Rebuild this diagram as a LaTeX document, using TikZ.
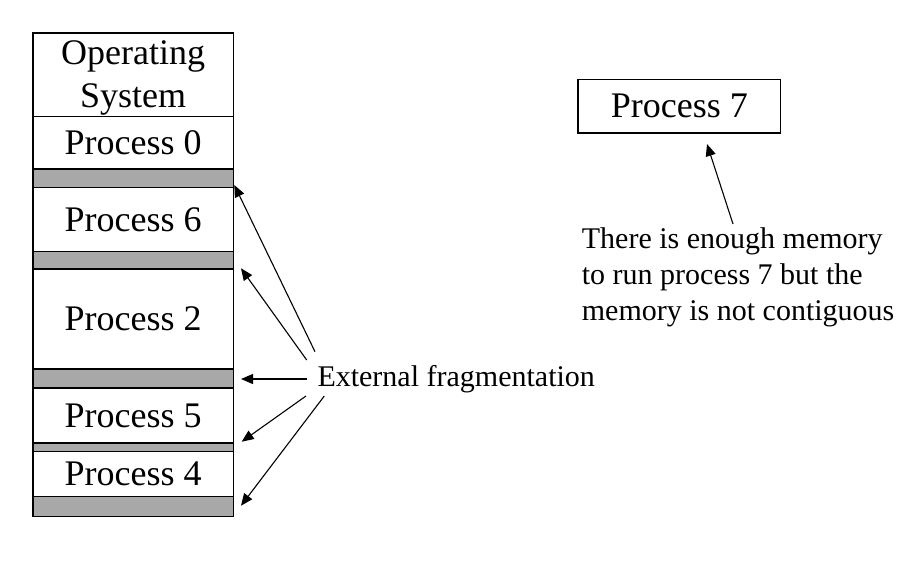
\documentclass[tikz,border=0pt]{standalone}
\usepackage{fontspec}
\setmainfont{Liberation Serif}
\usetikzlibrary{arrows.meta}
\definecolor{gapgray}{RGB}{168,168,168}
\begin{document}
\begin{tikzpicture}[x=1pt,y=-1pt,
  mem/.style={draw, line width=1.4pt, fill=white, minimum width=200.4pt, inner sep=0pt, anchor=north west, font=\fontsize{36}{42}\selectfont, align=center},
  gapbox/.style={draw, line width=1.4pt, fill=gapgray, minimum width=200.4pt, inner sep=0pt, anchor=north west},
  ptr/.style={line width=1.1pt, -{Triangle[length=12pt,width=10pt]}},
  note/.style={font=\fontsize{30}{36}\selectfont, inner sep=0pt}
]
\fill[white] (0,0) rectangle (899,567);
\useasboundingbox (0,0) rectangle (899,567);

% memory column
\node[mem, minimum height=83.4pt] (os) at (32.3,32.3) {};
\node[inner sep=0pt, font=\fontsize{36}{43}\selectfont, align=center] (oslbl) at ([yshift=-3pt]os.center) {Operating\\System};
\node[mem, minimum height=52.6pt] (p0) at (32.3,115.7) {Process 0};
\node[gapbox, minimum height=18.4pt] (g1) at (32.3,168.3) {};
\node[mem, minimum height=64.3pt] (p6) at (32.3,186.7) {Process 6};
\node[gapbox, minimum height=17.3pt] (g2) at (32.3,251) {};
\node[mem, minimum height=100pt] (p2) at (32.3,268.3) {Process 2};
\node[gapbox, minimum height=19pt] (g3) at (32.3,368.3) {};
\node[mem, minimum height=55pt] (p5) at (32.3,387.3) {Process 5};
\node[gapbox, minimum height=8.4pt] (g4) at (32.3,442.3) {};
\node[mem, minimum height=45.3pt] (p4) at (32.3,450.7) {Process 4};
\node[gapbox, minimum height=19.7pt] (g5) at (32.3,496) {};

% label
\node[note, anchor=base west] (ext) at (317.3,386.7) {External fragmentation};

% arrow ends
\coordinate (s1) at (315,351.7);
\coordinate (s2) at (306.7,360);
\coordinate (s3) at (306.7,379);
\coordinate (s4) at (306,396);
\coordinate (s5) at (324.3,396);
\coordinate (t1) at (234.3,185);
\coordinate (t2) at (241,268.3);
\coordinate (t3) at (241,379);
\coordinate (t4) at (241.7,441.7);
\coordinate (t5) at (241,505.7);

\draw[ptr] (s1) -- (t1);
\draw[ptr] (s2) -- (t2);
\draw[ptr] (s3) -- (t3);
\draw[ptr] (s4) -- (t4);
\draw[ptr] (s5) -- (t5);

% process 7
\node[mem, minimum width=202.7pt, minimum height=53.3pt] (p7) at (577.3,79) {Process 7};
\node[note, anchor=north west, align=left] (why) at (581.7,227.5) {There is enough memory\\to run process 7 but the\\memory is not contiguous};
\coordinate (s7) at (733,224);
\coordinate (t7) at (707,144);
\draw[ptr] (s7) -- (t7);
\end{tikzpicture}
\end{document}
